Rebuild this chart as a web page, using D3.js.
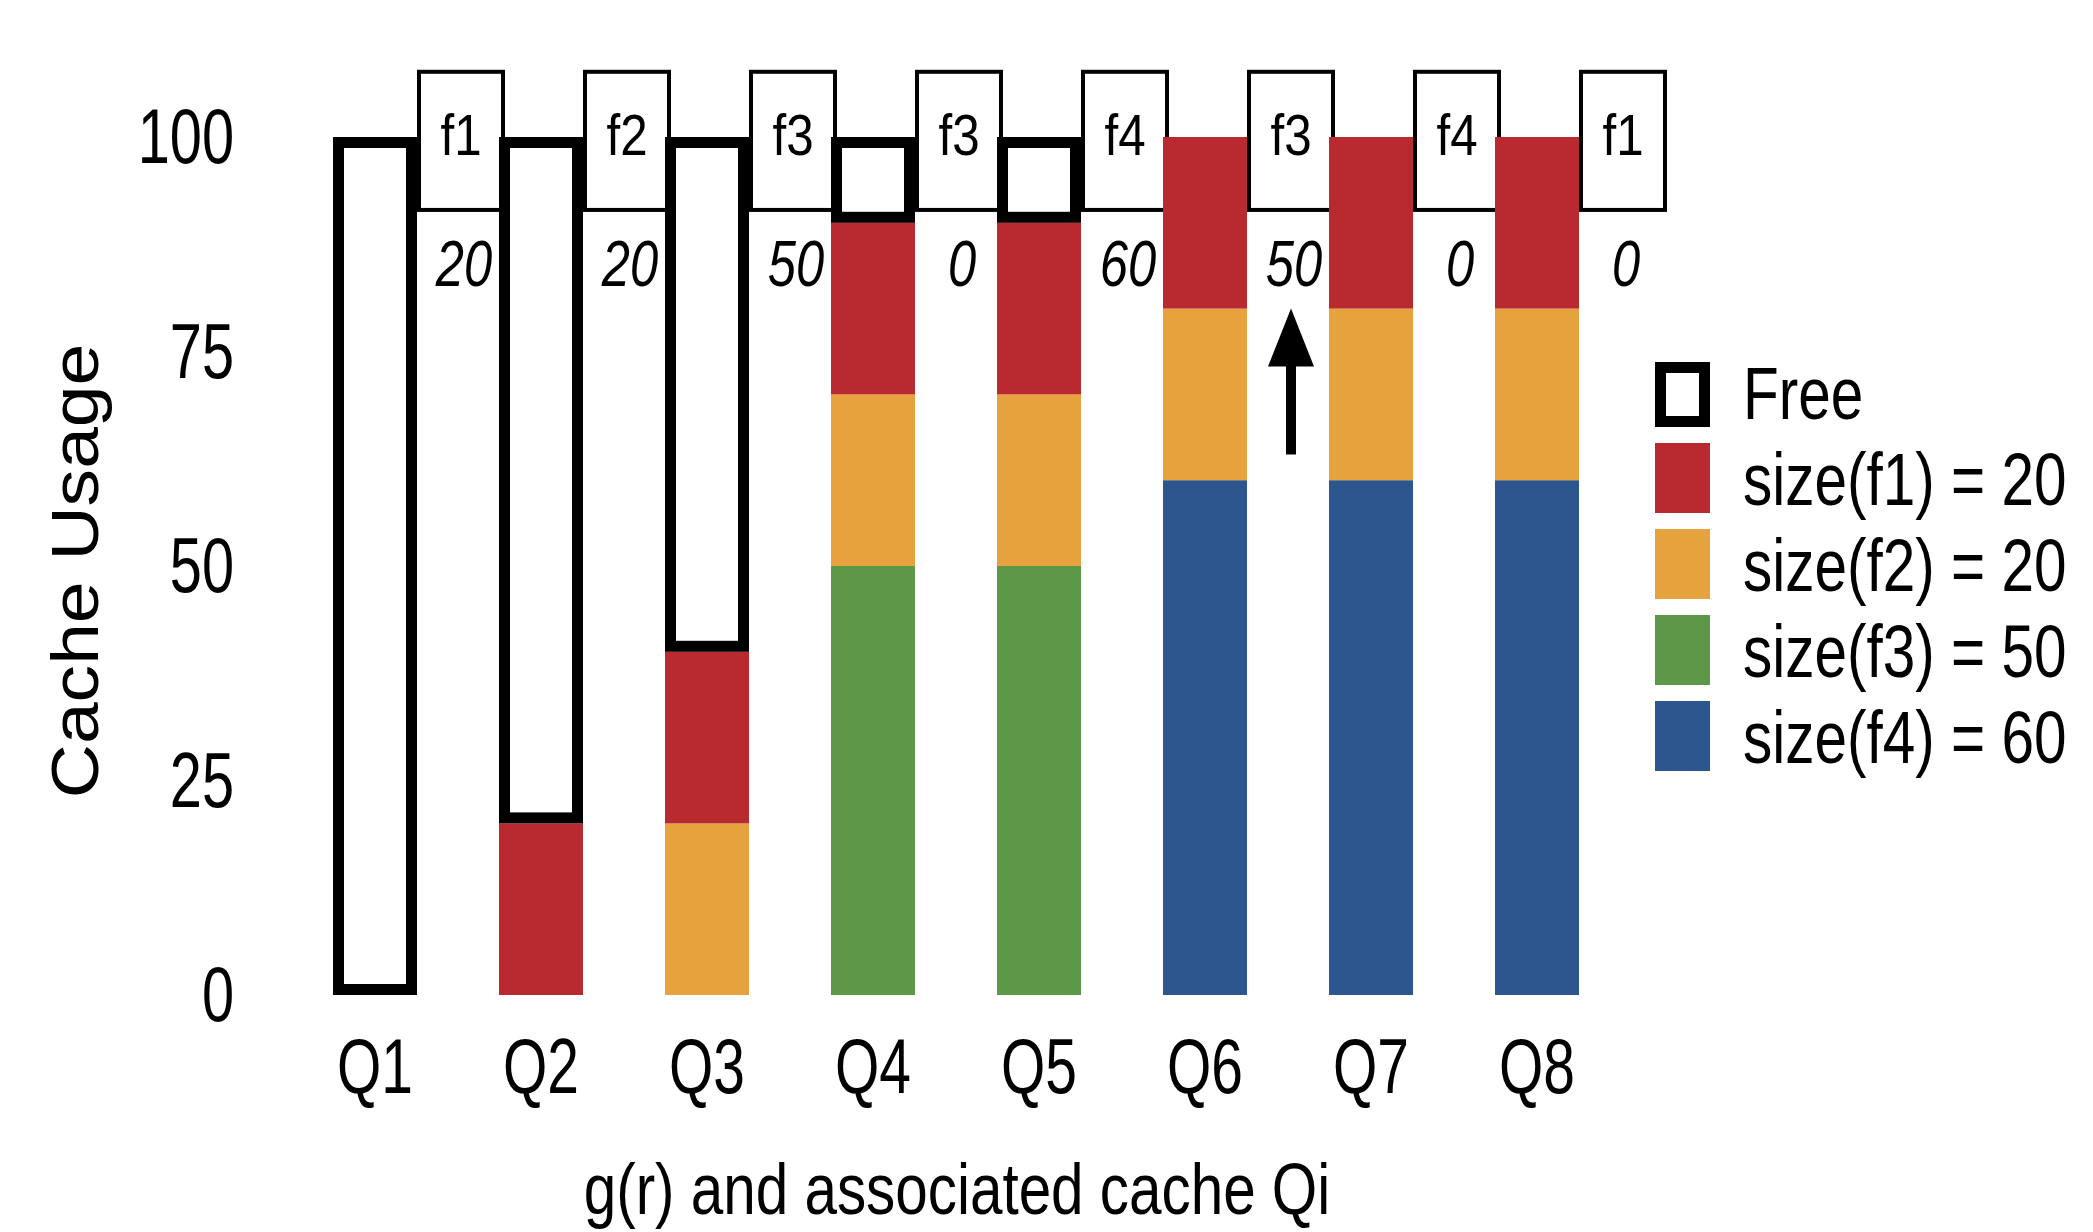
<!DOCTYPE html>
<html>
<head>
<meta charset="utf-8">
<script src="https://cdn.jsdelivr.net/npm/d3@7"></script>
<style>
  html, body { margin: 0; padding: 0; background: #ffffff; }
  svg { display: block; }
  text { font-family: "Liberation Sans", Arial, Helvetica, sans-serif; fill: #000; }
</style>
</head>
<body>
<script>
// ---------- data ----------
const categories = ["Q1", "Q2", "Q3", "Q4", "Q5", "Q6", "Q7", "Q8"];
const f1Values   = [0, 20, 20, 20, 20, 20, 20, 20];
const f2Values   = [0, 0, 20, 20, 20, 20, 20, 20];
const f3Values   = [0, 0, 0, 50, 50, 0, 0, 0];
const f4Values   = [0, 0, 0, 0, 0, 60, 60, 60];
const freeValues = [100, 80, 60, 10, 10, 0, 0, 0];
const requestLabels = ["f1", "f2", "f3", "f3", "f4", "f3", "f4", "f1"];
const requestNumbers = ["20", "20", "50", "0", "60", "50", "0", "0"];
const yTicks = [0, 25, 50, 75, 100];
const legendLabels = ["Free", "size(f1) = 20", "size(f2) = 20", "size(f3) = 50", "size(f4) = 60"];
const arrowColumn = 5;        // under the 6th request box
const arrowFrom = 63, arrowTo = 80;

// ---------- style ----------
const colors = { f1: "#B92A30", f2: "#E6A23C", f3: "#5C9847", f4: "#2D568E" };
const W = 2093, H = 1232;

const svg = d3.select("body").append("svg").attr("width", W).attr("height", H);

const x = d3.scaleBand().domain(categories).range([333, 1579]).paddingInner(0.494).paddingOuter(0);
const y = d3.scaleLinear().domain([0, 100]).range([995, 137]);
const bw = x.bandwidth();

const rows = categories.map((c, i) => ({
  cat: c, f1: f1Values[i], f2: f2Values[i], f3: f3Values[i], f4: f4Values[i], free: freeValues[i]
}));
const keys = ["f4", "f3", "f2", "f1", "free"];
const stacked = d3.stack().keys(keys)(rows);

// ---------- request boxes (drawn first) ----------
const boxes = svg.append("g");
requestLabels.forEach((lab, i) => {
  const bx = x(categories[i]) + bw + 2;
  const cx = bx + 42;
  boxes.append("rect")
    .attr("x", bx).attr("y", y(107.6))
    .attr("width", 84).attr("height", y(91.5) - y(107.6))
    .attr("fill", "#fff").attr("stroke", "#000").attr("stroke-width", 4);
  boxes.append("g").attr("transform", `translate(${cx},${155}) scale(0.85,1)`)
    .append("text").attr("text-anchor", "middle").attr("font-size", 58).text(lab);
  boxes.append("g").attr("transform", `translate(${cx + 3},${286}) scale(0.78,1)`)
    .append("text").attr("text-anchor", "middle").attr("font-size", 65)
    .attr("font-style", "italic").text(requestNumbers[i]);
});

// ---------- bars ----------
const sw = 11;
stacked.forEach(layer => {
  const key = layer.key;
  const g = svg.append("g");
  layer.forEach(d => {
    const v = d[1] - d[0];
    if (v <= 0) return;
    const x0 = x(d.data.cat);
    const yTop = y(d[1]), yBot = y(d[0]);
    if (key === "free") {
      g.append("rect")
        .attr("x", x0 + sw / 2).attr("y", yTop + sw / 2)
        .attr("width", bw - sw).attr("height", yBot - yTop - sw)
        .attr("fill", "#fff").attr("stroke", "#000").attr("stroke-width", sw);
    } else {
      g.append("rect")
        .attr("x", x0).attr("y", yTop)
        .attr("width", bw).attr("height", yBot - yTop)
        .attr("fill", colors[key]);
    }
  });
});

// ---------- arrow ----------
{
  const ax = x(categories[arrowColumn]) + bw + 2 + 42;
  const tip = y(arrowTo), headLen = 58, headHalf = 23;
  svg.append("line")
    .attr("x1", ax).attr("x2", ax)
    .attr("y1", y(arrowFrom)).attr("y2", tip + headLen - 2)
    .attr("stroke", "#000").attr("stroke-width", 10);
  svg.append("path")
    .attr("d", `M${ax},${tip} L${ax - headHalf},${tip + headLen} L${ax + headHalf},${tip + headLen} Z`)
    .attr("fill", "#000");
}

// ---------- y axis labels ----------
const yAxisG = svg.append("g");
yTicks.forEach(t => {
  yAxisG.append("g").attr("transform", `translate(234,${y(t) + 26}) scale(0.75,1)`)
    .append("text").attr("text-anchor", "end").attr("font-size", 77).text(t);
});
svg.append("g").attr("transform", "translate(98,571) rotate(-90) scale(1.12,1)")
  .append("text").attr("text-anchor", "middle").attr("font-size", 67).text("Cache Usage");

// ---------- x axis labels ----------
categories.forEach(c => {
  svg.append("g").attr("transform", `translate(${x(c) + bw / 2},1093) scale(0.74,1)`)
    .append("text").attr("text-anchor", "middle").attr("font-size", 77).text(c);
});
svg.append("g").attr("transform", "translate(957,1214) scale(0.8,1)")
  .append("text").attr("text-anchor", "middle").attr("font-size", 73).text("g(r) and associated cache Qi");

// ---------- legend ----------
const legendKeys = ["free", "f1", "f2", "f3", "f4"];
const lg = svg.append("g");
legendKeys.forEach((k, i) => {
  const top = 357 + 86 * i;
  const cy = top + 35;
  if (k === "free") {
    lg.append("rect").attr("x", 1655 + 5.5).attr("y", 362 + 5.5)
      .attr("width", 55 - 11).attr("height", 65 - 11)
      .attr("fill", "#fff").attr("stroke", "#000").attr("stroke-width", 11);
  } else {
    lg.append("rect").attr("x", 1655).attr("y", top)
      .attr("width", 55).attr("height", 70).attr("fill", colors[k]);
  }
  lg.append("g").attr("transform", `translate(1743,${cy + 27}) scale(0.78,1)`)
    .append("text").attr("font-size", 75).text(legendLabels[i]);
});
</script>
</body>
</html>
